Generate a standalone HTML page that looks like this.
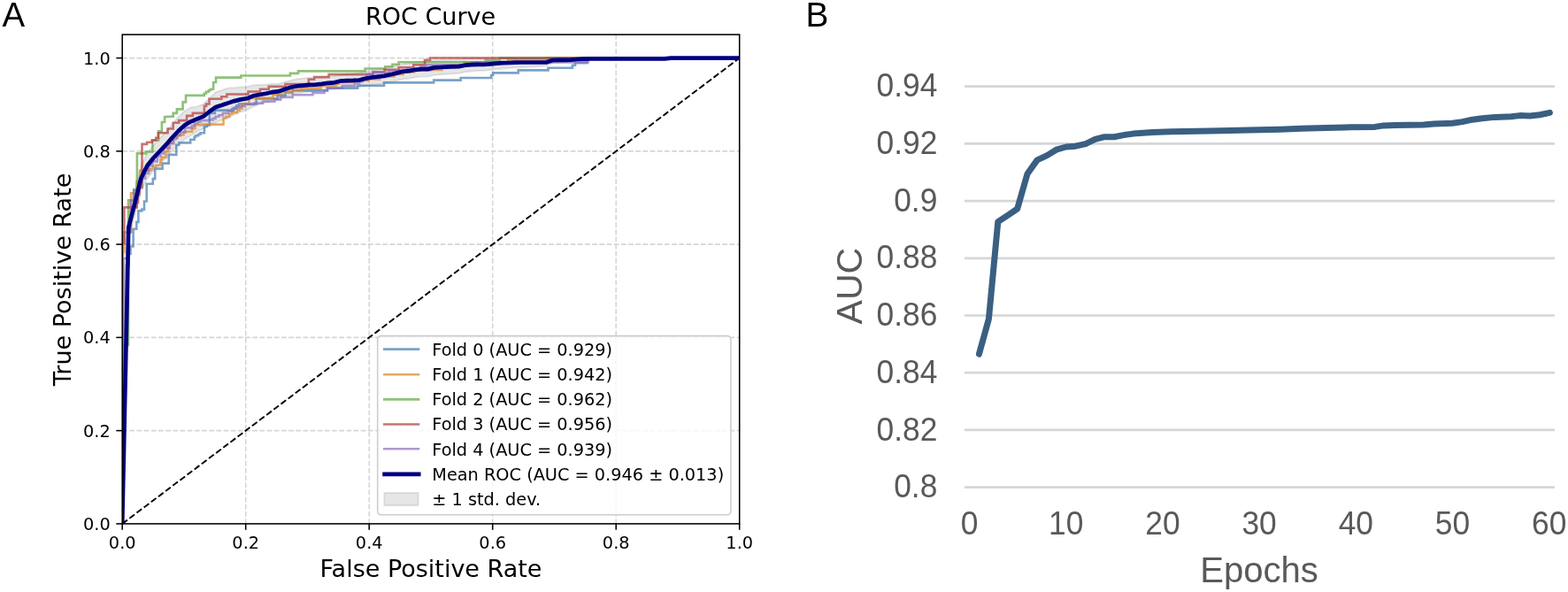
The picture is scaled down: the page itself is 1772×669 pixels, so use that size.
<!DOCTYPE html>
<html><head><meta charset="utf-8"><title>ROC and AUC</title>
<style>
html,body{margin:0;padding:0;background:#fff;width:1772px;height:669px;overflow:hidden}
svg{display:block}
.a{font-family:"DejaVu Sans", "Liberation Sans", sans-serif;fill:#000}
.b{font-family:"Liberation Sans", Arial, sans-serif}
</style></head><body>
<svg width="1772" height="669" viewBox="0 0 1772 669">
<rect width="1772" height="669" fill="#fff"/>
<line x1="277.7" y1="591.9" x2="277.7" y2="39.1" stroke="#d5d5d5" stroke-width="1.55" stroke-dasharray="5.70 2.47" fill="none"/>
<line x1="417.2" y1="591.9" x2="417.2" y2="39.1" stroke="#d5d5d5" stroke-width="1.55" stroke-dasharray="5.70 2.47" fill="none"/>
<line x1="556.7" y1="591.9" x2="556.7" y2="39.1" stroke="#d5d5d5" stroke-width="1.55" stroke-dasharray="5.70 2.47" fill="none"/>
<line x1="696.2" y1="591.9" x2="696.2" y2="39.1" stroke="#d5d5d5" stroke-width="1.55" stroke-dasharray="5.70 2.47" fill="none"/>
<line x1="138.2" y1="486.64" x2="835.7" y2="486.64" stroke="#d5d5d5" stroke-width="1.55" stroke-dasharray="5.70 2.47" fill="none"/>
<line x1="138.2" y1="381.38" x2="835.7" y2="381.38" stroke="#d5d5d5" stroke-width="1.55" stroke-dasharray="5.70 2.47" fill="none"/>
<line x1="138.2" y1="276.12" x2="835.7" y2="276.12" stroke="#d5d5d5" stroke-width="1.55" stroke-dasharray="5.70 2.47" fill="none"/>
<line x1="138.2" y1="170.86" x2="835.7" y2="170.86" stroke="#d5d5d5" stroke-width="1.55" stroke-dasharray="5.70 2.47" fill="none"/>
<line x1="138.2" y1="65.6" x2="835.7" y2="65.6" stroke="#d5d5d5" stroke-width="1.55" stroke-dasharray="5.70 2.47" fill="none"/>
<defs><clipPath id="axc"><rect x="138.2" y="39.1" width="697.5" height="552.8"/></clipPath></defs><g clip-path="url(#axc)">
<path d="M138.2,591.9 L145.25,245 L152.29,216 L159.34,187.33 L166.38,172.97 L173.43,164 L180.47,156.33 L187.52,148.87 L194.56,140.5 L201.61,132 L208.65,125.5 L215.7,121.3 L222.75,120.4 L229.79,117.6 L236.84,111 L243.88,104 L250.93,101.8 L257.97,99.4 L265.02,99.1 L272.06,98.4 L279.11,98.3 L286.15,96.3 L293.2,96 L300.25,95.7 L307.29,94.87 L314.34,94.73 L321.38,93 L328.43,90.8 L335.47,89.3 L342.52,88.6 L349.56,87.8 L356.61,87.9 L363.65,87.3 L370.7,86.4 L377.75,86.1 L384.79,84.5 L391.84,83.8 L398.88,83.3 L405.93,82.6 L412.97,80.6 L420.02,79 L427.06,78.2 L434.11,77.4 L441.15,75.8 L448.2,74.1 L455.25,72.3 L462.29,71.7 L469.34,70.3 L476.38,69.6 L483.43,69.6 L490.47,67.9 L497.52,67.7 L504.56,67.5 L511.61,67.5 L518.65,67.4 L525.7,66.2 L532.75,65.9 L539.79,65.8 L546.84,66.1 L553.88,65.6 L560.93,65.6 L567.97,65.6 L575.02,65.6 L582.06,65.6 L589.11,65.6 L596.15,65.6 L603.2,65.6 L610.25,66.08 L617.29,66.67 L624.34,65.6 L631.38,65.6 L638.43,65.72 L645.47,66.1 L652.52,65.87 L659.56,65.83 L666.61,65.9 L673.65,65.91 L680.7,65.92 L687.75,65.92 L694.79,65.93 L701.84,65.94 L708.88,65.95 L715.93,65.96 L722.97,65.97 L730.02,65.97 L737.06,65.98 L744.11,65.99 L751.15,66 L758.2,65.7 L765.25,65.7 L772.29,65.7 L779.34,65.7 L786.38,65.7 L793.43,65.7 L800.47,65.7 L807.52,65.7 L814.56,65.7 L821.61,65.7 L828.65,65.7 L835.7,65.7 L835.7,65.7 L828.65,65.7 L821.61,65.7 L814.56,65.7 L807.52,65.7 L800.47,65.7 L793.43,65.7 L786.38,65.7 L779.34,65.7 L772.29,65.7 L765.25,65.7 L758.2,65.7 L751.15,66.6 L744.11,66.61 L737.06,66.62 L730.02,66.62 L722.97,66.63 L715.93,66.64 L708.88,66.65 L701.84,66.66 L694.79,66.67 L687.75,66.67 L680.7,66.68 L673.65,66.69 L666.61,66.7 L659.56,67.37 L652.52,68.13 L645.47,69.1 L638.43,69.88 L631.38,70.57 L624.34,71.25 L617.29,74.33 L610.25,74.92 L603.2,75.5 L596.15,75.75 L589.11,76 L582.06,76.45 L575.02,77 L567.97,77.45 L560.93,78.2 L553.88,79 L546.84,79.9 L539.79,80 L532.75,80.5 L525.7,81.2 L518.65,82.8 L511.61,83.3 L504.56,83.7 L497.52,84.3 L490.47,84.9 L483.43,86.6 L476.38,86.6 L469.34,87.3 L462.29,88.7 L455.25,89.3 L448.2,91.1 L441.15,92.8 L434.11,94.4 L427.06,95.2 L420.02,96 L412.97,97 L405.93,98.4 L398.88,98.5 L391.84,98.4 L384.79,98.5 L377.75,100.5 L370.7,101.2 L363.65,102.5 L356.61,103.5 L349.56,103.8 L342.52,104.6 L335.47,105.3 L328.43,106.8 L321.38,109 L314.34,112.07 L307.29,113.53 L300.25,115.7 L293.2,118 L286.15,120.3 L279.11,124.3 L272.06,126.4 L265.02,129.1 L257.97,133.4 L250.93,135.8 L243.88,138 L236.84,141 L229.79,145.6 L222.75,148.4 L215.7,153.3 L208.65,157.5 L201.61,164 L194.56,170.5 L187.52,178.53 L180.47,185.67 L173.43,193 L166.38,201.63 L159.34,215.67 L152.29,244 L145.25,269 L138.2,591.9 Z" fill="#808080" fill-opacity="0.2" stroke="#808080" stroke-opacity="0.2" stroke-width="1.9"/>
<path d="M138.2,591.9 V520 H140.8 V420 H142.8 V300 H145.5 V287 H147.5 V278.5 H150.6 V258.8 H154.3 V250.9 H156.4 V238.4 H160.3 V236.6 H163 V227.5 H165.7 V207.7 H172.8 V202.1 H175.2 V190.6 H183.6 V184.6 H190.7 V174.9 H199.3 V163.7 H202.3 V161.4 H215.2 V157.8 H219.7 V154.8 H221.1 V153.3 H224.1 V151.8 H226.4 V150.3 H230.9 V142.9 H233.8 V141.4 H236.8 V127.9 H242.8 V124.6 H264 V122.7 H267.4 V119.3 H270 V117.5 H289.6 V111.5 H313.8 V107.9 H322.5 V104.5 H330.6 V102.4 H369.9 V99.6 H404.2 V96.8 H434 V93.4 H490.2 V90.6 H520.6 V88 H555.2 V85 H557.2 V82.4 H585.7 V79.4 H619.5 V76.8 H646.9 V73.8 H650 V71.3 H663 V65.5 H835.7" fill="none" stroke="#427ab0" stroke-opacity="0.7" stroke-width="2.6" stroke-linejoin="miter"/>
<path d="M138.2,591.9 V430 H139 V285 H140.4 V262.5 H148 V218.2 H154.5 V205 H158.2 V192.8 H170.2 V191.3 H172.4 V188.3 H176.2 V186.9 H181.4 V180.1 H183 V177.9 H187.4 V171.2 H190 V161.4 H194.8 V158.5 H196 V155.5 H200.8 V152.5 H207.5 V149.5 H210 V148.8 H217 V145.1 H220.4 V141.2 H228 V140.6 H252.5 V133.2 H255.5 V131.7 H259.2 V128.7 H262.2 V127.2 H268.1 V124.7 H270.8 V122.7 H273.5 V117.3 H281.5 V110.9 H308.4 V107.2 H315.8 V105.2 H319.2 V103.5 H330 V101.8 H340.7 V99.6 H362.5 V96.9 H380 V94.9 H382.7 V93 H400 V91 H416.3 V89.5 H429.2 V86.5 H445.5 V84 H455.6 V81.4 H467.8 V79.5 H486.1 V78.9 H499.3 V76 H510 V73.5 H524.2 V70.3 H574 V67.5 H617 V65.6 H835.7" fill="none" stroke="#de831f" stroke-opacity="0.7" stroke-width="2.6" stroke-linejoin="miter"/>
<path d="M138.2,591.9 V480 H139.5 V390 H145 V226.3 H151.5 V214 H154.9 V173.4 H164.9 V171.5 H172.4 V158.5 H179.1 V148.4 H182.9 V138 H186.1 V132 H189.4 V131.7 H195.7 V127.9 H199.9 V123.4 H206.6 V115.4 H210 V107.9 H230.7 V105.7 H232.9 V103.8 H235.9 V102 H238.1 V100.8 H241.1 V93 H244 V87.6 H272.4 V85.5 H327.9 V82.9 H337 V80.4 H412.6 V77.5 H435.3 V75.3 H443.4 V72.8 H450.6 V70.3 H548.7 V68.1 H564.9 V65.6 H835.7" fill="none" stroke="#5fa541" stroke-opacity="0.7" stroke-width="2.6" stroke-linejoin="miter"/>
<path d="M138.2,591.9 V275 H140.4 V234.4 H154.7 V229 H156 V220 H157.5 V212 H160.5 V162.9 H166.1 V160.7 H171.7 V158.5 H176.2 V155.8 H178.8 V150.2 H189.6 V145.5 H195.7 V138.8 H202.1 V136.1 H211.1 V130.9 H217.8 V127.9 H230.9 V119.7 H233.1 V117.5 H236.5 V111.8 H250.3 V109.3 H256.3 V106.5 H280.5 V103.5 H294 V100.8 H303.7 V97.8 H322.5 V95.1 H348.8 V89.8 H355.1 V87.1 H371.6 V84.1 H421.7 V81.4 H434.4 V78.9 H450.6 V76.3 H467.3 V73.3 H480 V67.7 H486.1 V65.5 H835.7" fill="none" stroke="#b03737" stroke-opacity="0.7" stroke-width="2.6" stroke-linejoin="miter"/>
<path d="M138.2,591.9 V420 H139.6 V292 H144.5 V262 H147.8 V226.4 H151 V215 H157.5 V205 H160.5 V201.5 H164 V196 H167.9 V189.8 H168.5 V186.9 H172.4 V182.4 H177.7 V176.4 H181.4 V173.4 H185.1 V167.4 H191.9 V162.2 H196.3 V157 H199.3 V153.2 H203.8 V149.5 H208.3 V148.8 H209.2 V144.4 H216.7 V142.1 H219.7 V139.1 H224.1 V137.6 H226.4 V136.1 H236.1 V135.4 H240.6 V133.9 H243.6 V131.7 H247.3 V130.2 H251.8 V127.9 H257.8 V125.7 H262.2 V122.7 H265 V121.3 H270.8 V120 H276.8 V118 H286.9 V116.6 H297 V114.6 H310.4 V112.6 H317.2 V109.9 H330.6 V107.3 H353.4 V105 H366.5 V102.3 H369.9 V99.6 H386.7 V96.9 H400.8 V94.2 H406.2 V92.2 H409.6 V88 H414.3 V83.8 H421 V82 H440 V79.5 H460 V77.5 H475 V75 H482 V73.3 H533.7 V70.4 H664.7 V65.6 H835.7" fill="none" stroke="#8a6fbc" stroke-opacity="0.7" stroke-width="2.6" stroke-linejoin="miter"/>
<line x1="138.2" y1="591.9" x2="835.7" y2="65.6" stroke="#000" stroke-width="1.93" stroke-dasharray="7.13 3.08"/>
<path d="M138.2,591.9 L145.25,257 L152.29,230 L159.34,201.5 L166.38,187.3 L173.43,178.5 L180.47,171 L187.52,163.7 L194.56,155.5 L201.61,148 L208.65,141.5 L215.7,137.3 L222.75,134.4 L229.79,131.6 L236.84,126 L243.88,121 L250.93,118.8 L257.97,116.4 L265.02,114.1 L272.06,112.4 L279.11,111.3 L286.15,108.3 L293.2,107 L300.25,105.7 L307.29,104.2 L314.34,103.4 L321.38,101 L328.43,98.8 L335.47,97.3 L342.52,96.6 L349.56,95.8 L356.61,95.7 L363.65,94.9 L370.7,93.8 L377.75,93.3 L384.79,91.5 L391.84,91.1 L398.88,90.9 L405.93,90.5 L412.97,88.8 L420.02,87.5 L427.06,86.7 L434.11,85.9 L441.15,84.3 L448.2,82.6 L455.25,80.8 L462.29,80.2 L469.34,78.8 L476.38,78.1 L483.43,78.1 L490.47,76.4 L497.52,76 L504.56,75.6 L511.61,75.4 L518.65,75.1 L525.7,73.7 L532.75,73.2 L539.79,72.9 L546.84,73 L553.88,72.3 L560.93,71.7 L567.97,71.2 L575.02,71 L582.06,70.7 L589.11,70.5 L596.15,70.5 L603.2,70.5 L610.25,70.5 L617.29,70.5 L624.34,68 L631.38,67.9 L638.43,67.8 L645.47,67.6 L652.52,67 L659.56,66.6 L666.61,66.3 L673.65,66.3 L680.7,66.3 L687.75,66.3 L694.79,66.3 L701.84,66.3 L708.88,66.3 L715.93,66.3 L722.97,66.3 L730.02,66.3 L737.06,66.3 L744.11,66.3 L751.15,66.3 L758.2,65.7 L765.25,65.7 L772.29,65.7 L779.34,65.7 L786.38,65.7 L793.43,65.7 L800.47,65.7 L807.52,65.7 L814.56,65.7 L821.61,65.7 L828.65,65.7 L835.7,65.7" fill="none" stroke="#000080" stroke-width="4.7" stroke-linejoin="round" stroke-linecap="butt"/>
</g>
<rect x="138.2" y="39.1" width="697.5" height="552.8" fill="none" stroke="#000" stroke-width="1.55"/>
<line x1="138.2" y1="591.9" x2="138.2" y2="598.8" stroke="#000" stroke-width="1.55"/>
<line x1="131.3" y1="591.9" x2="138.2" y2="591.9" stroke="#000" stroke-width="1.55"/>
<text x="138.2" y="619.6" text-anchor="middle" font-size="19.3" class="a">0.0</text>
<text x="124.7" y="598.9" text-anchor="end" font-size="19.3" class="a">0.0</text>
<line x1="277.7" y1="591.9" x2="277.7" y2="598.8" stroke="#000" stroke-width="1.55"/>
<line x1="131.3" y1="486.64" x2="138.2" y2="486.64" stroke="#000" stroke-width="1.55"/>
<text x="277.7" y="619.6" text-anchor="middle" font-size="19.3" class="a">0.2</text>
<text x="124.7" y="493.64" text-anchor="end" font-size="19.3" class="a">0.2</text>
<line x1="417.2" y1="591.9" x2="417.2" y2="598.8" stroke="#000" stroke-width="1.55"/>
<line x1="131.3" y1="381.38" x2="138.2" y2="381.38" stroke="#000" stroke-width="1.55"/>
<text x="417.2" y="619.6" text-anchor="middle" font-size="19.3" class="a">0.4</text>
<text x="124.7" y="388.38" text-anchor="end" font-size="19.3" class="a">0.4</text>
<line x1="556.7" y1="591.9" x2="556.7" y2="598.8" stroke="#000" stroke-width="1.55"/>
<line x1="131.3" y1="276.12" x2="138.2" y2="276.12" stroke="#000" stroke-width="1.55"/>
<text x="556.7" y="619.6" text-anchor="middle" font-size="19.3" class="a">0.6</text>
<text x="124.7" y="283.12" text-anchor="end" font-size="19.3" class="a">0.6</text>
<line x1="696.2" y1="591.9" x2="696.2" y2="598.8" stroke="#000" stroke-width="1.55"/>
<line x1="131.3" y1="170.86" x2="138.2" y2="170.86" stroke="#000" stroke-width="1.55"/>
<text x="696.2" y="619.6" text-anchor="middle" font-size="19.3" class="a">0.8</text>
<text x="124.7" y="177.86" text-anchor="end" font-size="19.3" class="a">0.8</text>
<line x1="835.7" y1="591.9" x2="835.7" y2="598.8" stroke="#000" stroke-width="1.55"/>
<line x1="131.3" y1="65.6" x2="138.2" y2="65.6" stroke="#000" stroke-width="1.55"/>
<text x="835.7" y="619.6" text-anchor="middle" font-size="19.3" class="a">1.0</text>
<text x="124.7" y="72.6" text-anchor="end" font-size="19.3" class="a">1.0</text>
<text x="486.6" y="27.9" text-anchor="middle" font-size="27.0" class="a">ROC Curve</text>
<text x="487" y="652.1" text-anchor="middle" font-size="27.0" class="a">False Positive Rate</text>
<text transform="translate(80.1,315.9) rotate(-90)" text-anchor="middle" font-size="27.0" class="a">True Positive Rate</text>
<rect x="426.7" y="379.6" width="399.2" height="202.2" rx="4" ry="4" fill="#fff" fill-opacity="0.8" stroke="#cccccc" stroke-width="1.55"/>
<line x1="433" y1="394.6" x2="474.3" y2="394.6" stroke="#427ab0" stroke-opacity="0.7" stroke-width="2.6"/>
<line x1="433" y1="423.2" x2="474.3" y2="423.2" stroke="#de831f" stroke-opacity="0.7" stroke-width="2.6"/>
<line x1="433" y1="451.4" x2="474.3" y2="451.4" stroke="#5fa541" stroke-opacity="0.7" stroke-width="2.6"/>
<line x1="433" y1="479.5" x2="474.3" y2="479.5" stroke="#b03737" stroke-opacity="0.7" stroke-width="2.6"/>
<line x1="433" y1="507.2" x2="474.3" y2="507.2" stroke="#8a6fbc" stroke-opacity="0.7" stroke-width="2.6"/>
<line x1="434.6" y1="535.8" x2="473.2" y2="535.8" stroke="#000080" stroke-width="4.7" stroke-linecap="square"/>
<rect x="434.3" y="557" width="38.4" height="14.2" fill="#808080" fill-opacity="0.2" stroke="#808080" stroke-opacity="0.2" stroke-width="1.9"/>
<text x="488.3" y="402.2" font-size="19.3" class="a">Fold 0 (AUC = 0.929)</text>
<text x="488.3" y="430.28" font-size="19.3" class="a">Fold 1 (AUC = 0.942)</text>
<text x="488.3" y="458.36" font-size="19.3" class="a">Fold 2 (AUC = 0.962)</text>
<text x="488.3" y="486.44" font-size="19.3" class="a">Fold 3 (AUC = 0.956)</text>
<text x="488.3" y="514.52" font-size="19.3" class="a">Fold 4 (AUC = 0.939)</text>
<text x="488.3" y="542.6" font-size="19.3" class="a">Mean ROC (AUC = 0.946 ± 0.013)</text>
<text x="488.3" y="570.68" font-size="19.3" class="a">± 1 std. dev.</text>
<text x="2.5" y="29.9" font-size="38.4" class="b" fill="#000">A</text>
<line x1="1089.9" y1="550.6" x2="1756.9" y2="550.6" stroke="#d6d6d6" stroke-width="2.7"/>
<text transform="translate(1059.3,562.2) scale(0.94,1)" text-anchor="end" font-size="37.6" class="b" fill="#595959">0.8</text>
<line x1="1089.9" y1="485.9" x2="1756.9" y2="485.9" stroke="#d6d6d6" stroke-width="2.7"/>
<text transform="translate(1059.3,497.5) scale(0.94,1)" text-anchor="end" font-size="37.6" class="b" fill="#595959">0.82</text>
<line x1="1089.9" y1="421.2" x2="1756.9" y2="421.2" stroke="#d6d6d6" stroke-width="2.7"/>
<text transform="translate(1059.3,432.8) scale(0.94,1)" text-anchor="end" font-size="37.6" class="b" fill="#595959">0.84</text>
<line x1="1089.9" y1="356.5" x2="1756.9" y2="356.5" stroke="#d6d6d6" stroke-width="2.7"/>
<text transform="translate(1059.3,368.1) scale(0.94,1)" text-anchor="end" font-size="37.6" class="b" fill="#595959">0.86</text>
<line x1="1089.9" y1="291.8" x2="1756.9" y2="291.8" stroke="#d6d6d6" stroke-width="2.7"/>
<text transform="translate(1059.3,303.4) scale(0.94,1)" text-anchor="end" font-size="37.6" class="b" fill="#595959">0.88</text>
<line x1="1089.9" y1="227.1" x2="1756.9" y2="227.1" stroke="#d6d6d6" stroke-width="2.7"/>
<text transform="translate(1059.3,238.7) scale(0.94,1)" text-anchor="end" font-size="37.6" class="b" fill="#595959">0.9</text>
<line x1="1089.9" y1="162.4" x2="1756.9" y2="162.4" stroke="#d6d6d6" stroke-width="2.7"/>
<text transform="translate(1059.3,174) scale(0.94,1)" text-anchor="end" font-size="37.6" class="b" fill="#595959">0.92</text>
<line x1="1089.9" y1="97.7" x2="1756.9" y2="97.7" stroke="#d6d6d6" stroke-width="2.7"/>
<text transform="translate(1059.3,109.3) scale(0.94,1)" text-anchor="end" font-size="37.6" class="b" fill="#595959">0.94</text>
<text transform="translate(1095.5,603.7) scale(0.94,1)" text-anchor="middle" font-size="37.6" class="b" fill="#595959">0</text>
<text transform="translate(1204.7,603.7) scale(0.94,1)" text-anchor="middle" font-size="37.6" class="b" fill="#595959">10</text>
<text transform="translate(1313.9,603.7) scale(0.94,1)" text-anchor="middle" font-size="37.6" class="b" fill="#595959">20</text>
<text transform="translate(1423.1,603.7) scale(0.94,1)" text-anchor="middle" font-size="37.6" class="b" fill="#595959">30</text>
<text transform="translate(1532.3,603.7) scale(0.94,1)" text-anchor="middle" font-size="37.6" class="b" fill="#595959">40</text>
<text transform="translate(1641.5,603.7) scale(0.94,1)" text-anchor="middle" font-size="37.6" class="b" fill="#595959">50</text>
<text transform="translate(1750.7,603.7) scale(0.94,1)" text-anchor="middle" font-size="37.6" class="b" fill="#595959">60</text>
<text transform="translate(1423,658.1) scale(0.98,1)" text-anchor="middle" font-size="40.9" class="b" fill="#595959">Epochs</text>
<text transform="translate(974.3,323.1) rotate(-90)" text-anchor="middle" font-size="41" class="b" fill="#595959">AUC</text>
<text x="910.4" y="29.9" font-size="38.8" class="b" fill="#000">B</text>
<path d="M1106.4,400.2 L1117.4,360.5 L1127.8,250.7 L1139.2,243.1 L1149.7,236 L1161,196.5 L1172.1,180.9 L1182.9,175.9 L1193.7,169.2 L1204.8,166 L1215.5,165.2 L1226.8,162.6 L1237.6,157.4 L1248.4,154.7 L1259.1,154.7 L1269.9,152.6 L1280.6,151.1 L1291.4,150.3 L1302.6,149.4 L1323.7,148.8 L1367.5,148.1 L1390,147.4 L1411.2,146.9 L1446.5,146.2 L1470.5,145.3 L1488.8,144.7 L1520,143.9 L1553.9,143.39 L1563.7,141.89 L1576.4,141.6 L1608.9,141.1 L1620.2,139.9 L1641.3,139.21 L1652.6,137.59 L1663.9,135.2 L1675.2,133.69 L1689.3,132.38 L1707.6,131.83 L1717.5,130.6 L1728.8,131.01 L1740.1,129.73 L1751.4,127.3" fill="none" stroke="#3a5f82" stroke-width="7" stroke-linecap="round" stroke-linejoin="round"/>
</svg>
</body></html>
